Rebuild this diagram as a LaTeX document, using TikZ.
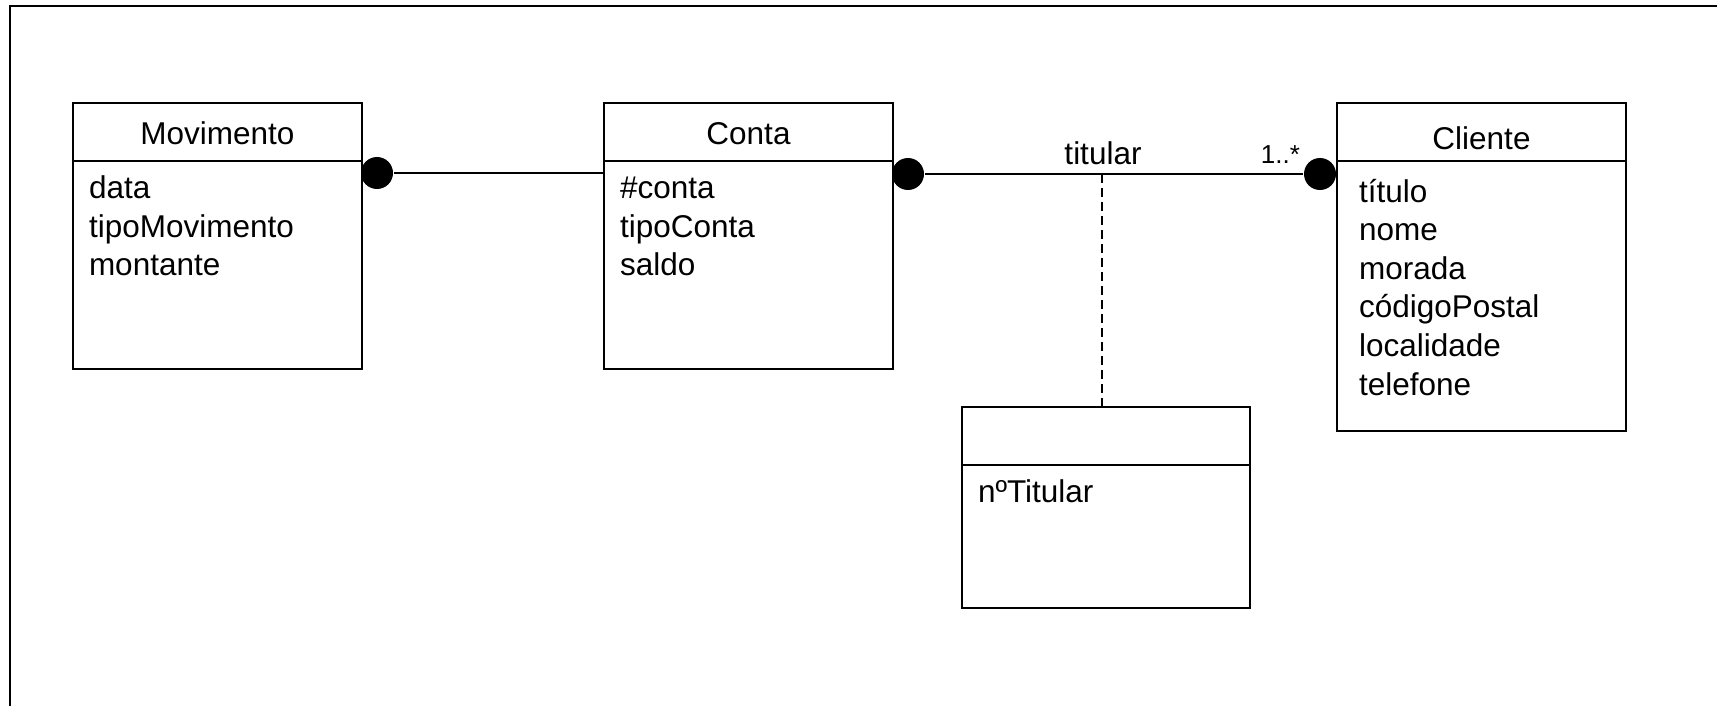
\documentclass[tikz,border=0pt]{standalone}
\usepackage{fontspec}
\setmainfont{Liberation Sans}
\usetikzlibrary{positioning,calc}

\begin{document}
\begin{tikzpicture}[x=1pt,y=-1pt,line width=2pt,
	classe/.style={draw,rectangle,anchor=north west,inner sep=0pt},
	txt/.style={font=\fontsize{31.5}{38}\selectfont,inner sep=0pt},
	multtxt/.style={font=\fontsize{26}{30}\selectfont,inner sep=0pt},
	bola/.style={circle,fill,inner sep=0pt,minimum size=32pt}]
	\useasboundingbox (0,0) rectangle (1717,706);
	\draw (10,706) -- (10,6) -- (1717,6);
	% classes
	\node[classe,minimum width=289pt,minimum height=266pt] (mov) at (72,102) {};
	\node[classe,minimum width=289pt,minimum height=266pt] (conta) at (603,102) {};
	\node[classe,minimum width=289pt,minimum height=328pt] (cli) at (1336,102) {};
	\node[classe,minimum width=288pt,minimum height=201pt] (assoc) at (961,406) {};
	\foreach \c in {mov,conta,cli,assoc}
		\draw ([yshift=-59pt]\c.north west) -- ([yshift=-59pt]\c.north east);
	\node[txt,anchor=base] (movnome) at ([yshift=-43pt]mov.north) {Movimento};
	\node[txt,anchor=base] (contanome) at ([yshift=-43pt]conta.north) {Conta};
	\node[txt,anchor=base] (clinome) at ([yshift=-48pt]cli.north) {Cliente};
	% atributos
	\foreach \a [count=\i] in {data,tipoMovimento,montante}
		\node[txt,anchor=base west] (mov\i) at ([xshift=16pt,yshift=-58pt-38.5pt*\i]mov.north west) {\a};
	\foreach \a [count=\i] in {\#conta,tipoConta,saldo}
		\node[txt,anchor=base west] (conta\i) at ([xshift=16pt,yshift=-58pt-38.5pt*\i]conta.north west) {\a};
	\foreach \a [count=\i] in {título,nome,morada,códigoPostal,localidade,telefone}
		\node[txt,anchor=base west] (cli\i) at ([xshift=22pt,yshift=-61.4pt-38.6pt*\i]cli.north west) {\a};
	\node[txt,anchor=base west] (assoc1) at ([xshift=16pt,yshift=-96pt]assoc.north west) {nºTitular};
	% ligacoes
	\node[bola] (b1) at (377,173) {};
	\node[bola] (b2) at (908,174) {};
	\node[bola] (b3) at (1320,174) {};
	\draw (b1) -- (conta.west |- b1);
	\draw (b2) -- (b3);
	\coordinate (tit) at (1102,174);
	\node[txt,anchor=base] (titular) at (1103,165) {titular};
	\node[multtxt,anchor=base east] (mult) at (1301,164) {1..*};
	\draw[dash pattern=on 9pt off 5pt] (tit) -- (tit |- assoc.north);
\end{tikzpicture}
\end{document}
